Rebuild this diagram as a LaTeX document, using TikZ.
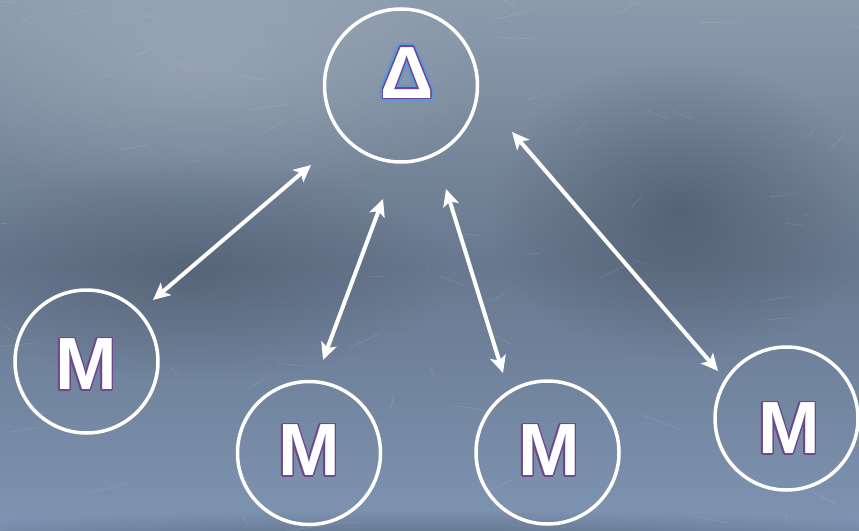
\documentclass[tikz,border=0pt]{standalone}
\usepackage{fontspec}
\usepackage[copies]{contour}
\usetikzlibrary{arrows.meta,fadings}
\newfontfamily\boardfont{Liberation Sans}
\definecolor{boardTop}{RGB}{140,155,172}
\definecolor{boardMid}{RGB}{104,120,142}
\definecolor{boardLow}{RGB}{126,148,178}
\definecolor{boardDark}{RGB}{55,66,82}
\definecolor{letterRim}{RGB}{110,72,140}
\definecolor{deltaGlow}{RGB}{92,152,214}
\tikzfading[name=softspot, inner color=transparent!0, outer color=transparent!100]
\contournumber{24}
\newcommand{\mglyph}[1]{\contourlength{1.3pt}\contour{letterRim}{\textcolor{white}{#1}}}
\newcommand{\dglyph}[1]{\rlap{\contourlength{3.5pt}\contour{deltaGlow}{\textcolor{deltaGlow}{#1}}}\mglyph{#1}}

\begin{document}
\begin{tikzpicture}[x=1pt, y=-1pt, >={Stealth[length=17pt, width=16pt, inset=4pt]},
    ring/.style={circle, draw=white, line width=3.5pt, minimum size=143pt, inner sep=0pt},
    sym/.style={inner sep=0pt, font=\boardfont\bfseries\fontsize{74}{74}\selectfont},
    link/.style={<->, white, line width=4pt}]
            % ==== BOARD ====
            \useasboundingbox (0,0) rectangle (859,530);
            \shade[top color=boardTop, bottom color=boardLow, middle color=boardMid] (0,0) rectangle (859,530);
            \fill[boardDark, opacity=0.45, path fading=softspot] (680,210) ellipse (190 and 150);
            \fill[boardDark, opacity=0.35, path fading=softspot] (190,270) ellipse (260 and 110);
            \fill[boardDark, opacity=0.5, path fading=softspot] (430,545) ellipse (620 and 35);
            \fill[white, opacity=0.15, path fading=softspot] (200,70) ellipse (300 and 130);
            \pgfmathsetseed{11}
            \foreach \k in {1,...,70}
                \draw[white, opacity=0.12, line width=0.6pt]
                    ({rnd*859},{rnd*530}) -- ++({rnd*80-40},{rnd*30-15});
            % ==== CIRCLES ====
            \node[ring, minimum size=153pt] (delta) at (401,85.5) {};
            \node[ring] (m1) at (86.5,361.5) {};
            \node[ring] (m2) at (309,453) {};
            \node[ring] (m3) at (547.5,452.5) {};
            \node[ring] (m4) at (786.5,418.5) {};
            % ==== LETTERS ====
            \node[sym] (deltaText) at (407,74.5) {\dglyph{Δ}};
            \node[sym] (m1Text) at (86,365) {\mglyph{M}};
            \node[sym] (m2Text) at (309,451) {\mglyph{M}};
            \node[sym] (m3Text) at (549,451) {\mglyph{M}};
            \node[sym] (m4Text) at (789,429) {\mglyph{M}};
            % ==== ARROWS ====
            \coordinate (a1) at (153,300); \coordinate (b1) at (311,165);
            \coordinate (a2) at (323,360); \coordinate (b2) at (383,199);
            \coordinate (a3) at (503,373); \coordinate (b3) at (446,189);
            \coordinate (a4) at (718,371); \coordinate (b4) at (512,132);
            \draw[link] (a1) -- (b1);
            \draw[link] (a2) -- (b2);
            \draw[link] (a3) -- (b3);
            \draw[link] (a4) -- (b4);
         \end{tikzpicture}
\end{document}
